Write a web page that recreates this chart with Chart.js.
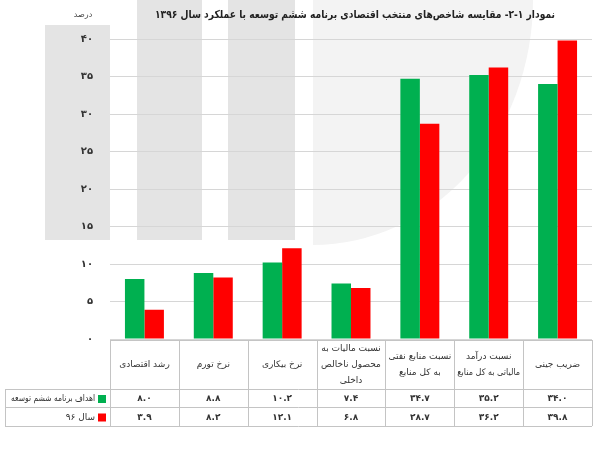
<!DOCTYPE html>
<html><head><meta charset="utf-8">
<script src="https://cdn.jsdelivr.net/npm/chart.js@4"></script>
<style>html,body{margin:0;padding:0;background:#fff}#wrap{width:600px;height:450px}</style>
</head><body><div id="wrap"><canvas id="c" width="600" height="450"></canvas></div>
<script>
const categories = [
  ['رشد اقتصادی'],
  ['نرخ تورم'],
  ['نرخ بیکاری'],
  ['نسبت مالیات به', 'محصول ناخالص', 'داخلی'],
  ['نسبت منابع نفتی', 'به کل منابع'],
  ['نسبت درآمد', 'مالیاتی به کل منابع'],
  ['ضریب جینی']
];
const targets = [8.0, 8.8, 10.2, 7.4, 34.7, 35.2, 34.0];
const actual96 = [3.9, 8.2, 12.1, 6.8, 28.7, 36.2, 39.8];
const seriesNames = ['اهداف برنامه ششم توسعه', 'سال ۹۶'];
const seriesColors = ['#00B050', '#FF0000'];
const titleText = 'نمودار ۱-۲- مقایسه شاخص‌های منتخب اقتصادی برنامه ششم توسعه با عملکرد سال ۱۳۹۶';
const unitText = 'درصد';

const FA = '۰۱۲۳۴۵۶۷۸۹';
function toFa(s){ return String(s).replace(/[0-9]/g, d => FA[+d]); }
const FONT = '"DejaVu Sans", sans-serif';

function fitText(ctx, text, x, y, maxW, align){
  const w = ctx.measureText(text).width;
  ctx.save();
  ctx.textAlign = align;
  if (w > maxW) {
    const k = maxW / w;
    ctx.translate(x, y);
    ctx.scale(k, 1);
    ctx.fillText(text, 0, 0);
  } else {
    ctx.fillText(text, x, y);
  }
  ctx.restore();
}

const decor = {
  id: 'decor',
  beforeDraw(chart){
    const ctx = chart.ctx;
    ctx.save();
    ctx.fillStyle = '#fff';
    ctx.fillRect(0,0,chart.width,chart.height);
    ctx.fillStyle = '#f3f3f3';
    ctx.beginPath();
    ctx.ellipse(313, 0, 220, 245, 0, 0, Math.PI/2);
    ctx.lineTo(313,0);
    ctx.closePath();
    ctx.fill();
    ctx.fillStyle = '#e4e4e4';
    ctx.fillRect(45, 25, 65, 215);
    ctx.fillRect(137, 0, 65, 240);
    ctx.fillRect(228, 0, 67, 240);
    ctx.restore();
  },
  afterDraw(chart){
    const ctx = chart.ctx;
    const x = chart.scales.x;
    const area = chart.chartArea;
    const n = categories.length;
    const cw = (area.right - area.left) / n;
    ctx.save();
    ctx.direction = 'rtl';
    ctx.fillStyle = '#222';
    ctx.textBaseline = 'middle';
    ctx.font = 'bold 11px ' + FONT;
    fitText(ctx, titleText, 355, 15, 400, 'center');
    ctx.font = '8px ' + FONT;
    ctx.fillStyle = '#444';
    fitText(ctx, unitText, 83, 15, 40, 'center');

    const top = area.bottom + 1, hb = 389, r1 = 407, r2 = 426;
    const left0 = 5;
    ctx.strokeStyle = '#c4c4c4';
    ctx.lineWidth = 1;
    ctx.beginPath();
    const L = area.left, R = area.right;
    ctx.moveTo(L, top+0.5); ctx.lineTo(R, top+0.5);
    [hb, r1, r2].forEach(yy => { ctx.moveTo(left0, yy+0.5); ctx.lineTo(R, yy+0.5); });
    for (let i = 0; i <= n; i++) {
      const xx = Math.round(L + i*cw) + 0.5;
      ctx.moveTo(xx, top); ctx.lineTo(xx, r2);
    }
    ctx.moveTo(left0+0.5, hb); ctx.lineTo(left0+0.5, r2);
    ctx.stroke();

    ctx.fillStyle = '#333';
    ctx.font = '9px ' + FONT;
    const hmid = (top + hb) / 2, lh = 16;
    categories.forEach((lines, i) => {
      const cx = x.getPixelForValue(i);
      const y0 = hmid - (lines.length - 1) * lh / 2;
      lines.forEach((t, k) => fitText(ctx, t, cx, y0 + k*lh, cw - 6, 'center'));
    });
    [targets, actual96].forEach((arr, r) => {
      const yy = r === 0 ? (hb + r1)/2 + 1 : (r1 + r2)/2 + 1;
      ctx.fillStyle = '#333';
      ctx.font = 'bold 9px ' + FONT;
      arr.forEach((v, i) => fitText(ctx, toFa(v.toFixed(1)), x.getPixelForValue(i), yy, cw - 6, 'center'));
      ctx.fillStyle = seriesColors[r];
      ctx.fillRect(98, yy - 4, 8, 8);
      ctx.fillStyle = '#333';
      ctx.font = '9px ' + FONT;
      fitText(ctx, seriesNames[r], 95, yy, 84, 'right');
    });
    ctx.restore();
  }
};

new Chart(document.getElementById('c'), {
  type: 'bar',
  data: {
    labels: categories.map(c => c.join(' ')),
    datasets: [
      { label: seriesNames[0], data: targets, backgroundColor: seriesColors[0], categoryPercentage: 0.566, barPercentage: 1.0 },
      { label: seriesNames[1], data: actual96, backgroundColor: seriesColors[1], categoryPercentage: 0.566, barPercentage: 1.0 }
    ]
  },
  options: {
    responsive: false,
    animation: false,
    devicePixelRatio: 1,
    layout: { padding: { left: 0, right: 8, top: 39, bottom: 111 } },
    plugins: { legend: { display: false }, tooltip: { enabled: false }, title: { display: false } },
    scales: {
      x: { display: false },
      y: {
        min: 0, max: 40,
        ticks: { stepSize: 5, callback: v => toFa(v), color: '#333', padding: 17, font: { family: FONT, size: 10, weight: 'bold' } },
        grid: { color: '#d6d6d6', drawTicks: false },
        border: { display: false },
        afterFit(s) { s.width = 110; }
      }
    }
  },
  plugins: [decor]
});
</script>
</body></html>
